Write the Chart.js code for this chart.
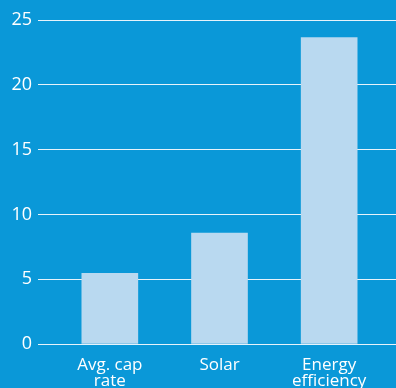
<!DOCTYPE html>
<html>
<head>
<meta charset="utf-8">
<script src="https://cdn.jsdelivr.net/npm/chart.js@4"></script>
<style>
  html, body { margin: 0; padding: 0; background: #0a98d8; }
  canvas { display: block; }
</style>
</head>
<body>
<canvas id="capRateChart" width="396" height="388"></canvas>
<script>
  // values
  const categories = [['Avg. cap', 'rate'], 'Solar', ['Energy', 'efficiency']];
  const values = [5.45, 8.55, 23.65];
  const yTicks = [0, 5, 10, 15, 20, 25];

  const gridColor = '#e6f3fb';

  // the gridlines run on past the plot area to the right edge of the picture
  const extendGrid = {
    id: 'extendGrid',
    beforeDatasetsDraw(chart) {
      const ctx = chart.ctx;
      const y = chart.scales.y;
      ctx.save();
      ctx.strokeStyle = gridColor;
      ctx.lineWidth = 1;
      yTicks.forEach(t => {
        // same pixel snapping Chart.js uses for its own grid lines
        const py = Math.round(y.getPixelForValue(t) - 0.5) + 0.5;
        ctx.beginPath();
        ctx.moveTo(chart.chartArea.right, py);
        ctx.lineTo(chart.width, py);
        ctx.stroke();
      });
      ctx.restore();
    }
  };

  const ctx = document.getElementById('capRateChart').getContext('2d');
  new Chart(ctx, {
    type: 'bar',
    data: {
      labels: categories,
      datasets: [{
        data: values,
        backgroundColor: '#b9d9f0',
        barThickness: 56
      }]
    },
    options: {
      responsive: false,
      animation: false,
      layout: { padding: { top: 20, right: 12, left: 0, bottom: 0 } },
      plugins: { legend: { display: false }, tooltip: { enabled: false } },
      scales: {
        x: {
          grid: { display: false },
          border: { display: false },
          ticks: {
            color: '#ffffff',
            padding: 6,
            maxRotation: 0,
            font: { family: 'Open Sans', size: 17, lineHeight: 0.9 }
          },
          afterFit(scale) { scale.height = 44; }
        },
        y: {
          min: 0,
          max: 25,
          afterBuildTicks(scale) { scale.ticks = yTicks.map(v => ({ value: v })); },
          grid: { color: gridColor, lineWidth: 1, tickLength: 17 },
          border: { display: false },
          ticks: {
            color: '#ffffff',
            padding: 6,
            font: { family: 'Open Sans', size: 18 }
          },
          afterFit(scale) { scale.width = 55; }
        }
      }
    },
    plugins: [extendGrid]
  });
</script>
</body>
</html>
